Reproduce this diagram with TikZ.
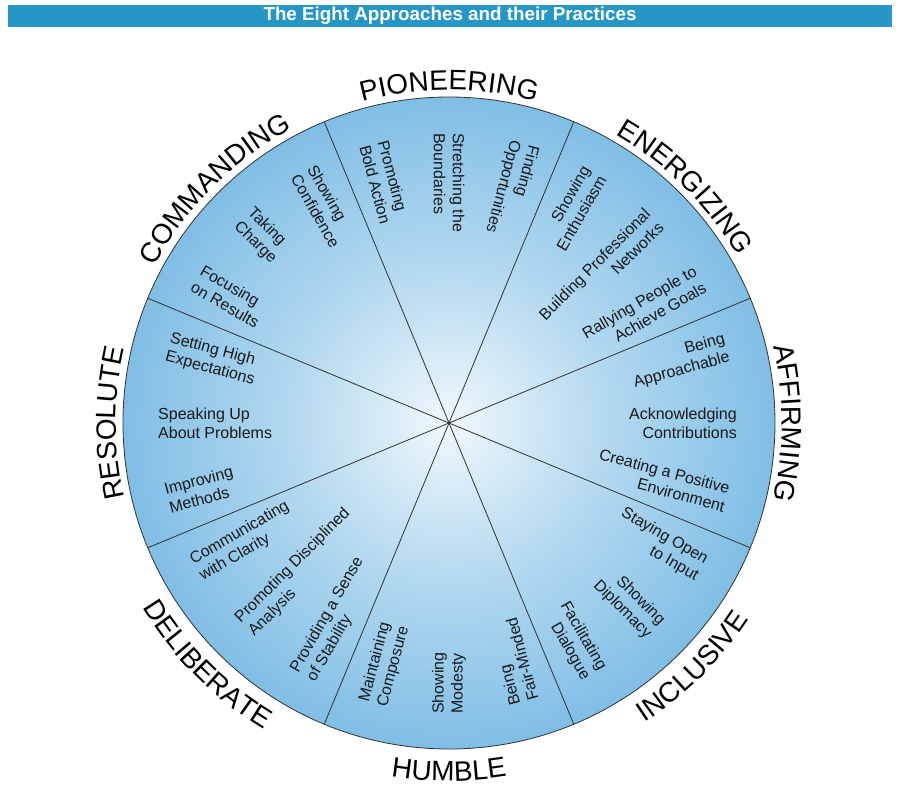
\documentclass[tikz,border=0pt]{standalone}
\usepackage{fontspec}
\setmainfont{Liberation Sans}
\usepackage{tikz}
\usetikzlibrary{decorations.text}

\definecolor{titleblue}{RGB}{38,150,198}
\definecolor{wheelin}{RGB}{240,247,252}
\definecolor{wheelmid}{RGB}{180,217,240}
\definecolor{wheelout}{RGB}{128,190,229}
\definecolor{rimline}{RGB}{50,50,50}
\definecolor{practicetext}{RGB}{25,25,25}

\pgfdeclareradialshading{wheelshade}{\pgfpointorigin}{color(0bp)=(wheelin); color(12bp)=(wheelmid); color(25bp)=(wheelout); color(50bp)=(wheelout)}

\newcommand{\practicefont}{\fontsize{16}{19}\selectfont}
\newcommand{\approachfont}{\fontsize{28}{32}\selectfont}

\begin{document}
\begin{tikzpicture}[x=1pt, y=1pt,
	inward/.style={anchor=west, align=left, inner sep=0pt, font=\practicefont, text=practicetext},
	outward/.style={anchor=east, align=right, inner sep=0pt, font=\practicefont, text=practicetext},
	spoke/.style={draw=rimline, line width=0.8pt},
	approach/.style={decorate, decoration={text along path, text align=center, text={|\approachfont|#1}}}]

\fill [white] (-449,-373) rectangle (451,423);
\useasboundingbox (-449,-373) rectangle (451,423);

% title bar
\fill [titleblue] (-441,396) rectangle (443,418);
\node [text=white, font=\bfseries\fontsize{18.8}{20}\selectfont] (title) at (1,407) {The Eight Approaches and their Practices};

% wheel
\coordinate (c) at (0,0);
\shade [shading=wheelshade] (c) circle [radius=326];
\draw [rimline, line width=0.8pt] (c) circle [radius=326];

\draw [spoke] (c) -- (22.5:326);
\draw [spoke] (c) -- (67.5:326);
\draw [spoke] (c) -- (112.5:326);
\draw [spoke] (c) -- (157.5:326);
\draw [spoke] (c) -- (202.5:326);
\draw [spoke] (c) -- (247.5:326);
\draw [spoke] (c) -- (292.5:326);
\draw [spoke] (c) -- (337.5:326);

% approaches
\path [approach=COMMANDING] (180:333) arc [start angle=180, end angle=90, radius=333];
\path [approach=PIONEERING] (135:333) arc [start angle=135, end angle=45, radius=333];
\path [approach=ENERGIZING] (90:333) arc [start angle=90, end angle=0, radius=333];
\path [approach=AFFIRMING] (45:333) arc [start angle=45, end angle=-45, radius=333];
\path [approach=RESOLUTE] (225:333) arc [start angle=225, end angle=135, radius=333];
\path [approach=INCLUSIVE] (-90:358) arc [start angle=-90, end angle=0, radius=358];
\path [approach=HUMBLE] (-135:358) arc [start angle=-135, end angle=-45, radius=358];
\path [approach=DELIBERATE] (-180:358) arc [start angle=-180, end angle=-90, radius=358];

% practices
\node [inward, rotate=-75] (pio1) at (105:290) {Promoting\\Bold Action};
\node [inward, rotate=-90] (pio2) at (90:290) {Stretching the\\Boundaries};
\node [inward, rotate=-105] (pio3) at (75:290) {Finding\\Opportunities};

\node [outward, rotate=60] (ene1) at (60:290) {Showing\\Enthusiasm};
\node [outward, rotate=45] (ene2) at (45:290) {Building Professional\\Networks};
\node [outward, rotate=30] (ene3) at (30:290) {Rallying People to\\Achieve Goals};

\node [outward, rotate=15] (aff1) at (15:288) {Being\\Approachable};
\node [outward, rotate=0] (aff2) at (0:288) {Acknowledging\\Contributions};
\node [outward, rotate=-15] (aff3) at (-15:288) {Creating a Positive\\Environment};

\node [outward, rotate=-30] (inc1) at (-30:292) {Staying Open\\to Input};
\node [outward, rotate=-45] (inc2) at (-45:292) {Showing\\Diplomacy};
\node [outward, rotate=-60] (inc3) at (-60:290) {Facilitating\\Dialogue};

\node [inward, rotate=75] (hum1) at (-105:291) {Maintaining\\Composure};
\node [inward, rotate=90] (hum2) at (-90:291) {Showing\\Modesty};
\node [inward, rotate=105] (hum3) at (-75:290) {Being\\Fair-Minded};

\node [inward, rotate=30] (del1) at (-150:292) {Communicating\\with Clarity};
\node [inward, rotate=45] (del2) at (-135:289) {Promoting Disciplined\\Analysis};
\node [inward, rotate=60] (del3) at (-120:292) {Providing a Sense\\of Stability};

\node [inward, rotate=-15] (res1) at (165:291) {Setting High\\Expectations};
\node [inward, rotate=0] (res2) at (180:291) {Speaking Up\\About Problems};
\node [inward, rotate=15] (res3) at (195:292) {Improving\\Methods};

\node [inward, rotate=-60] (com1) at (120:291) {Showing\\Confidence};
\node [inward, rotate=-45] (com2) at (135:291) {Taking\\Charge};
\node [inward, rotate=-30] (com3) at (150:291) {Focusing\\on Results};

\end{tikzpicture}
\end{document}
